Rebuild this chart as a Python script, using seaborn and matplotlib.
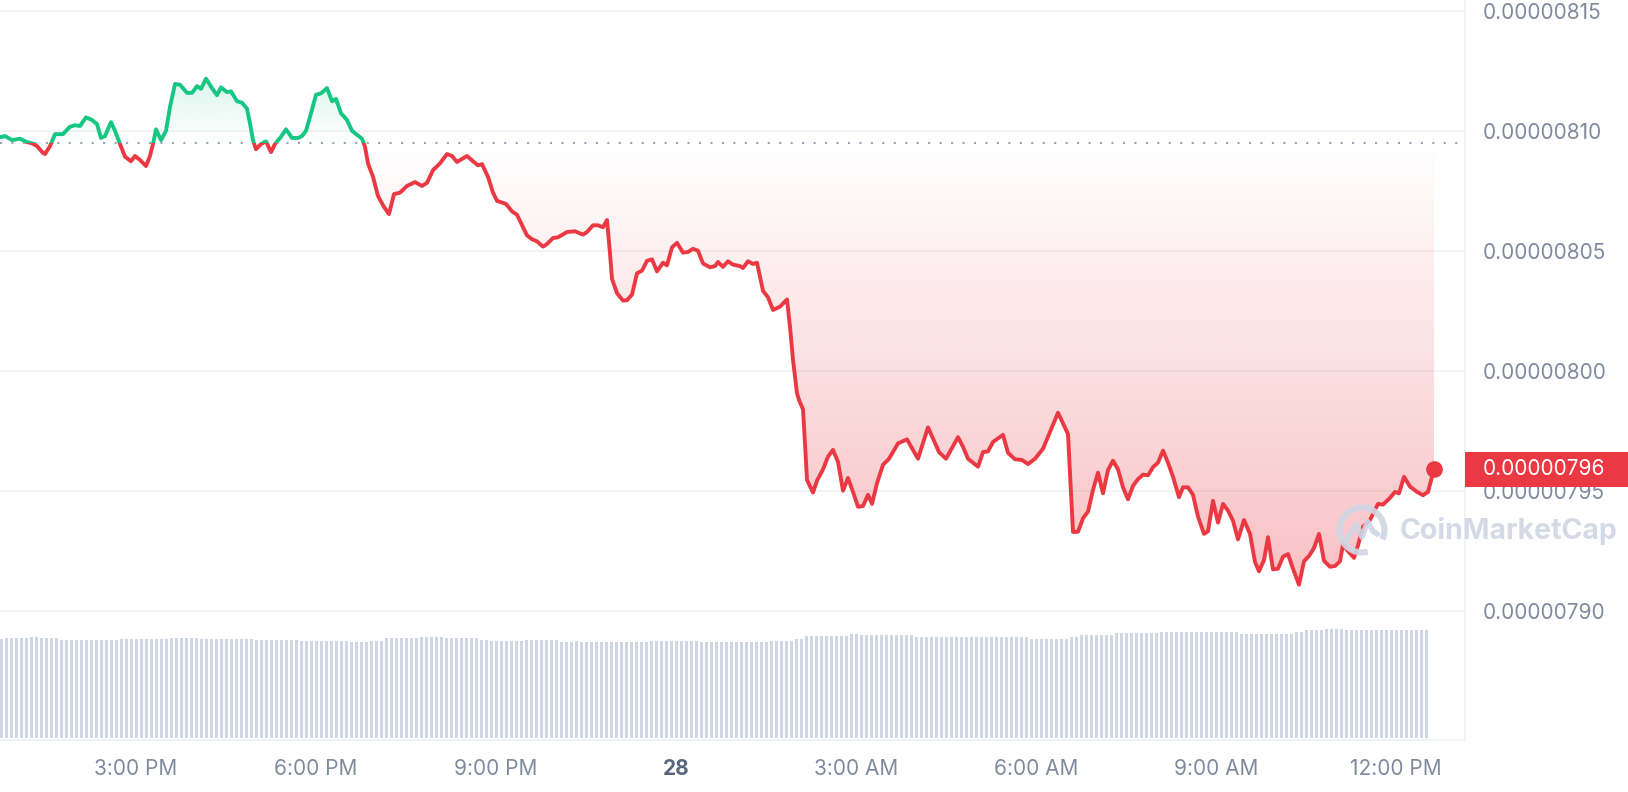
import numpy as np
import pandas as pd
import matplotlib
matplotlib.use("Agg")
import matplotlib.pyplot as plt
import matplotlib.dates as mdates
import matplotlib.transforms as mtransforms
from matplotlib.patches import Rectangle, Arc
from matplotlib.path import Path
from matplotlib.colors import to_rgb
import seaborn as sns

# --- data (price in units of 1e-8) ---
start = pd.Timestamp("2024-03-27 12:44")

minutes = [
    0, 5, 12, 20, 27, 32, 37, 43, 45, 50, 55, 63, 70, 75, 80, 86, 92, 97, 101, 105,
    111, 115, 120, 125, 131, 135, 140, 146, 150, 153, 156, 161, 166, 170, 175, 180, 187, 192, 197, 201,
    206, 212, 217, 221, 227, 231, 237, 242, 247, 250, 253, 256, 261, 266, 271, 275, 281, 286, 292, 298,
    302, 306, 310, 316, 321, 327, 332, 336, 341, 347, 352, 357, 362, 365, 368, 373, 378, 384, 389, 394,
    400, 407, 415, 422, 427, 433, 440, 447, 452, 457, 467, 473, 478, 482, 488, 493, 497, 506, 512, 517,
    527, 532, 537, 543, 547, 553, 558, 567, 575, 583, 587, 593, 598, 603, 607, 610, 612, 617, 623, 627,
    632, 637, 642, 647, 652, 657, 663, 667, 672, 677, 683, 688, 693, 698, 703, 710, 715, 718, 723, 728,
    733, 740, 743, 748, 753, 757, 763, 768, 773, 780, 787, 790, 793, 797, 799, 803, 805, 807, 813, 817,
    823, 828, 833, 838, 843, 848, 853, 858, 863, 868, 872, 877, 883, 889, 898, 907, 913, 918, 928, 933,
    939, 946, 952, 958, 963, 968, 978, 983, 988, 993, 1003, 1008, 1015, 1022, 1028, 1035, 1043, 1050, 1058, 1068,
    1073, 1078, 1083, 1088, 1093, 1098, 1103, 1108, 1113, 1118, 1123, 1128, 1133, 1138, 1143, 1148, 1153, 1158, 1163, 1168,
    1173, 1179, 1183, 1188, 1193, 1198, 1204, 1208, 1213, 1218, 1223, 1228, 1233, 1238, 1244, 1250, 1255, 1259, 1264, 1268,
    1273, 1278, 1283, 1288, 1293, 1299, 1304, 1309, 1314, 1319, 1324, 1330, 1335, 1340, 1343, 1348, 1354, 1358, 1363, 1370,
    1378, 1383, 1390, 1395, 1399, 1404, 1410, 1417, 1423, 1428, 1434,
]

price_e8 = [
    809.73, 809.78, 809.61, 809.67, 809.53, 809.48, 809.36, 809.08, 809.03, 809.36,
    809.86, 809.86, 810.17, 810.23, 810.20, 810.56, 810.45, 810.28, 809.70, 809.78,
    810.36, 810.00, 809.45, 808.92, 808.73, 808.95, 808.78, 808.53, 808.95, 809.45,
    810.06, 809.61, 810.00, 811.00, 811.95, 811.92, 811.58, 811.58, 811.86, 811.75,
    812.17, 811.78, 811.48, 811.81, 811.61, 811.64, 811.23, 811.17, 810.92, 810.31,
    809.61, 809.23, 809.45, 809.56, 809.11, 809.45, 809.75, 810.06, 809.70, 809.70,
    809.78, 810.00, 810.58, 811.50, 811.56, 811.78, 811.23, 811.33, 810.73, 810.45,
    810.00, 809.83, 809.67, 809.33, 808.64, 808.08, 807.28, 806.82, 806.53, 807.36,
    807.42, 807.70, 807.86, 807.70, 807.83, 808.36, 808.64, 809.03, 808.95, 808.70,
    808.95, 808.73, 808.56, 808.61, 808.08, 807.42, 807.08, 806.95, 806.64, 806.50,
    805.64, 805.48, 805.39, 805.17, 805.28, 805.53, 805.56, 805.78, 805.81, 805.67,
    805.78, 806.06, 806.06, 805.98, 806.28, 804.89, 803.83, 803.23, 802.92, 802.94,
    803.17, 804.06, 804.17, 804.58, 804.64, 804.14, 804.50, 804.39, 805.14, 805.33,
    804.92, 804.95, 805.08, 805.00, 804.47, 804.31, 804.36, 804.53, 804.33, 804.56,
    804.42, 804.36, 804.28, 804.56, 804.45, 804.50, 803.33, 803.06, 802.53, 802.67,
    802.97, 801.83, 800.45, 799.06, 798.78, 798.39, 796.97, 795.45, 794.92, 795.42,
    795.89, 796.42, 796.70, 796.20, 795.00, 795.53, 794.95, 794.33, 794.36, 794.83,
    794.45, 795.31, 796.08, 796.33, 796.97, 797.14, 796.70, 796.33, 797.64, 797.17,
    796.61, 796.33, 796.78, 797.23, 796.83, 796.33, 796.00, 796.61, 796.64, 797.03,
    797.33, 796.58, 796.31, 796.28, 796.11, 796.33, 796.75, 797.45, 798.25, 797.36,
    793.28, 793.29, 793.85, 794.13, 795.03, 795.75, 794.89, 795.86, 796.25, 795.89,
    795.14, 794.64, 795.20, 795.48, 795.67, 795.64, 795.98, 796.17, 796.67, 796.17,
    795.58, 794.73, 795.14, 795.14, 794.83, 793.92, 793.20, 793.31, 794.58, 793.67,
    794.45, 794.17, 793.75, 792.97, 793.78, 793.20, 792.03, 791.64, 792.11, 793.06,
    791.72, 791.75, 792.25, 792.36, 791.75, 791.08, 792.06, 792.28, 792.61, 793.20,
    792.08, 791.83, 791.86, 792.06, 792.75, 792.48, 792.20, 792.72, 793.50, 793.78,
    794.45, 794.42, 794.70, 794.95, 794.89, 795.58, 795.17, 794.95, 794.81, 794.95,
    795.89,
]

baseline_e8 = 809.48

# volume bars (5-min), read as runs of similar height (arbitrary units)
vol_levels = [
    99.0, 99.7, 101.0, 100.0, 98.3, 99.0, 100.0, 99.0, 98.0, 97.0, 96.0, 97.3, 99.7, 100.7, 99.7,
    98.3, 96.7, 97.3, 98.3, 96.3, 97.3, 96.3, 95.7, 97.3, 96.3, 97.0, 99.0, 102.3, 103.7, 103.0, 100.7,
    101.3, 99.3, 101.0, 103.0, 104.7, 105.7, 104.3, 106.3, 108.0, 109.0, 107.7,
]
vol_counts = [
    1, 5, 2, 4, 12, 10, 6, 11, 9, 10, 4, 3, 7, 5, 7,
    2, 2, 5, 7, 3, 1, 10, 4, 10, 14, 5, 2, 9, 2, 11, 9,
    14, 8, 2, 7, 9, 16, 11, 2, 4, 4, 17,
]

y_ticks_e8 = [790, 795, 800, 805, 810, 815]
x_tick_times = ["2024-03-27 15:00", "2024-03-27 18:00", "2024-03-27 21:00", "2024-03-28 00:00",
                "2024-03-28 03:00", "2024-03-28 06:00", "2024-03-28 09:00", "2024-03-28 12:00"]
x_tick_labels = ["3:00 PM", "6:00 PM", "9:00 PM", "28", "3:00 AM", "6:00 AM", "9:00 AM", "12:00 PM"]

GREEN = "#16c784"
RED = "#ea3943"
GRID = "#eff2f5"
TXT = "#808a9d"
VOLC = "#cfd6e4"

sns.set_theme(style="white")
plt.rcParams["font.family"] = ["Inter", "DejaVu Sans"]

df = pd.DataFrame({"time": start + pd.to_timedelta(minutes, unit="min"), "price": price_e8})
volume = np.repeat(vol_levels, vol_counts)
vol_df = pd.DataFrame({
    "time": start + pd.to_timedelta(np.arange(len(volume)) * 5 + 1.5, unit="min"),
    "volume": volume,
})

W, H = 1628, 792
fig = plt.figure(figsize=(W / 100, H / 100), dpi=100)
fig.patch.set_facecolor("white")

x0 = mdates.date2num(start)
x1 = mdates.date2num(start + pd.Timedelta(minutes=1465))
y_lo, y_hi = 784.61, 815.45

# volume panel
ax_vol = fig.add_axes([0, (H - 738) / H, 1465 / W, 120 / H])
ax_vol.bar(mdates.date2num(vol_df["time"]), vol_df["volume"], width=3 / 1440, color=VOLC, linewidth=0)
ax_vol.set_xlim(x0, x1)
ax_vol.set_ylim(0, 120)
ax_vol.axis("off")
ax_vol.patch.set_alpha(0)

# price panel
ax = fig.add_axes([0, (H - 740) / H, 1465 / W, 740 / H])
ax.patch.set_alpha(0)
xnum = mdates.date2num(df["time"])
p = df["price"].to_numpy()

def gradient_fill(mask, rgb, a_bottom, a_top, yb, yt):
    poly = ax.fill_between(xnum, p, baseline_e8, where=mask, interpolate=True,
                           facecolor="none", edgecolor="none")
    path = Path.make_compound_path(*poly.get_paths())
    grad = np.zeros((256, 1, 4))
    grad[:, 0, :3] = to_rgb(rgb)
    grad[:, 0, 3] = np.linspace(a_bottom, a_top, 256)
    im = ax.imshow(grad, extent=[x0, x1, yb, yt], origin="lower", aspect="auto",
                   interpolation="bilinear", zorder=1)
    im.set_clip_path(path, transform=ax.transData)

gradient_fill(p >= baseline_e8, GREEN, 0.0, 0.17, baseline_e8, 812.4)
gradient_fill(p <= baseline_e8, RED, 0.32, 0.0, 790.8, baseline_e8)

# line, green above baseline and red below
for col, rect_y, rect_h in [(GREEN, baseline_e8, 100), (RED, baseline_e8 - 100, 100)]:
    n_before = len(ax.lines)
    sns.lineplot(data=df, x="time", y="price", ax=ax, color=col, linewidth=2.8, zorder=4)
    line = ax.lines[n_before]
    line.set_solid_joinstyle("round")
    line.set_solid_capstyle("round")
    clip = Rectangle((x0 - 1, rect_y), 3, rect_h, transform=ax.transData)
    line.set_clip_path(clip)

ax.axhline(baseline_e8, color="#9aa2b4", linewidth=1.5, linestyle=(0, (1, 4.5)), zorder=3)

last_t, last_p = xnum[-1], p[-1]
ax.plot([last_t], [last_p], "o", color=RED, markersize=11, zorder=6, clip_on=False)

ax.set_xlim(x0, x1)
ax.set_ylim(y_lo, y_hi)

ax.set_yticks(y_ticks_e8)
ax.set_yticklabels([f"{v * 1e-8:.8f}" for v in y_ticks_e8])
ax.yaxis.tick_right()
ax.tick_params(axis="y", length=0, pad=13, labelsize=15, labelcolor=TXT)
ax.grid(axis="y", color=GRID, linewidth=1.2)
ax.set_axisbelow(True)

ax.set_xticks(mdates.date2num(pd.to_datetime(x_tick_times)))
ax.set_xticklabels(x_tick_labels)
ax.tick_params(axis="x", length=5, width=1, color="#e3e6ec", pad=9, labelsize=15, labelcolor=TXT)
for lab in ax.get_xticklabels():
    if lab.get_text() == "28":
        lab.set_fontweight("bold")
        lab.set_color("#58667e")
ax.set_xlabel("")
ax.set_ylabel("")

for side in ["top", "left"]:
    ax.spines[side].set_visible(False)
for side in ["bottom", "right"]:
    ax.spines[side].set_color(GRID)
    ax.spines[side].set_linewidth(1.2)

# current price tag
trans = mtransforms.blended_transform_factory(ax.transAxes, ax.transData)
tag_h = 35.4 / 24
ax.add_patch(Rectangle((1465 / 1465, last_p - tag_h / 2), 164 / 1465, tag_h, transform=trans,
                       facecolor=RED, edgecolor="none", clip_on=False, zorder=10))
ax.text(1483 / 1465, last_p, f"{last_p * 1e-8:.8f}", transform=trans, ha="left", va="center",
        color="white", fontsize=15, zorder=11, clip_on=False)

# watermark
fig.text(1400 / W, 1 - 531 / H, "CoinMarketCap", fontsize=20.5, fontweight="bold",
         color=VOLC, alpha=0.9, ha="left", va="center", zorder=20)
ax_logo = fig.add_axes([(1362 - 28) / W, (H - 530 - 28) / H, 56 / W, 56 / H])
ax_logo.set_xlim(-1, 1)
ax_logo.set_ylim(-1, 1)
ax_logo.axis("off")
ax_logo.patch.set_alpha(0)
ax_logo.add_patch(Arc((0, 0), 1.6, 1.6, theta1=-25, theta2=285, color=VOLC, linewidth=4.5, alpha=0.9))
ax_logo.plot([-0.55, -0.2, 0.0, 0.2, 0.4, 0.55], [-0.35, 0.2, -0.25, 0.3, -0.05, -0.15],
             color=VOLC, linewidth=4, alpha=0.9, solid_capstyle="round")

fig.savefig("out.png", dpi=100, facecolor="white")
